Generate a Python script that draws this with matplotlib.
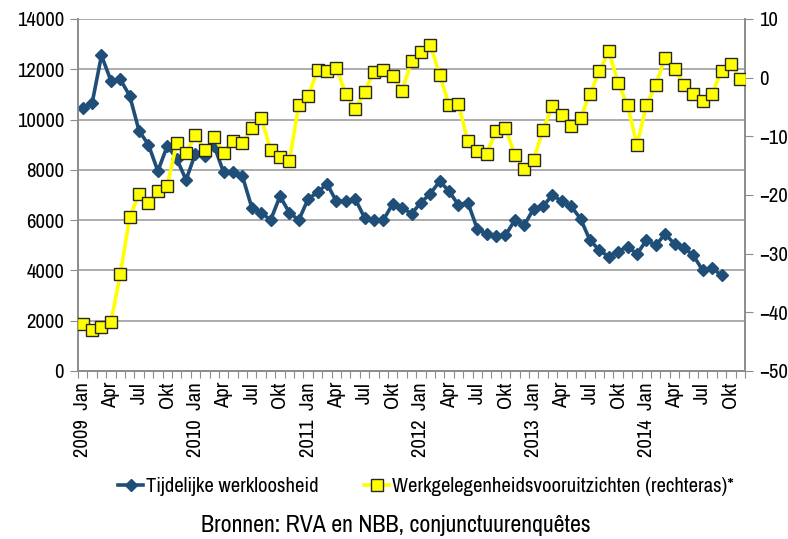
import matplotlib
matplotlib.use("Agg")
import matplotlib.pyplot as plt
import matplotlib.font_manager as fm
from matplotlib.lines import Line2D
import numpy as np

# prefer a narrow font (the reference uses an Arial Narrow look)
family = 'Liberation Sans'
for f in fm.fontManager.ttflist:
    n = f.name.lower()
    if ('narrow' in n or 'condensed' in n) and f.weight in (400, 'normal', 'regular') and f.style == 'normal':
        family = f.name
        break
plt.rcParams['font.family'] = [family, 'Liberation Sans', 'DejaVu Sans']

years = [2009, 2010, 2011, 2012, 2013, 2014]
month_names = ["Jan", "Apr", "Jul", "Okt"]

werkloosheid = [10450, 10650, 12550, 11550, 11600, 10950, 9550, 9000, 7950, 8950,
                8450, 7600, 8650, 8550, 8950, 7900, 7900, 7750, 6500, 6300,
                6000, 6950, 6300, 6000, 6850, 7100, 7450, 6750, 6750, 6850,
                6100, 6000, 6000, 6650, 6500, 6250, 6700, 7050, 7550, 7150,
                6600, 6700, 5650, 5450, 5350, 5400, 6000, 5800, 6450, 6550,
                7000, 6750, 6550, 6050, 5200, 4800, 4550, 4750, 4950, 4650,
                5200, 5000, 5450, 5050, 4900, 4600, 4000, 4100, 3800]

vooruitzichten = [-42.0, -43.0, -42.5, -41.7, -33.5, -23.8, -19.8, -21.4, -19.4, -18.4,
                  -11.2, -12.8, -9.8, -12.4, -10.1, -12.8, -10.85, -11.2, -8.5, -6.8,
                  -12.3, -13.5, -14.2, -4.7, -3.2, 1.3, 1.1, 1.7, -2.8, -5.4,
                  -2.4, 1.0, 1.3, 0.2, -2.2, 2.8, 4.4, 5.6, 0.5, -4.7,
                  -4.5, -10.85, -12.5, -13.0, -9.1, -8.5, -13.2, -15.5, -14.0, -8.9,
                  -4.8, -6.4, -8.2, -6.8, -2.8, 1.1, 4.5, -0.9, -4.7, -11.5,
                  -4.7, -1.2, 3.35, 1.4, -1.2, -2.8, -4.0, -2.8, 1.2, 2.4, -0.2]

legend_labels = ["Tijdelijke werkloosheid", "Werkgelegenheidsvooruitzichten (rechteras)*"]
source_text = "Bronnen: RVA en NBB, conjunctuurenquêtes"

n_months = len(vooruitzichten)
x_blue = np.arange(len(werkloosheid))
x_yel = np.arange(n_months)

W, H = 788, 539
fig = plt.figure(figsize=(W / 100, H / 100), dpi=100)


def width_at_10(s):
    t = fig.text(0, 0, s, fontsize=10)
    fig.canvas.draw()
    w = t.get_window_extent().width
    t.remove()
    return w


# font sizes chosen so texts are as wide as in the reference
FS = min(16.0, 10 * 343.0 / width_at_10(legend_labels[1]))
FS_SRC = min(18.0, 10 * 392.0 / width_at_10(source_text))

ax = fig.add_axes([78 / W, (H - 371) / H, 667 / W, 352 / H])

grid_c = '#A6A6A6'
spine_c = '#8C8C8C'
blue = '#1F4E79'

ax.set_xlim(-0.5, n_months - 0.5)
ax.set_ylim(0, 14000)
ax.set_yticks(np.arange(0, 14001, 2000))
ax.grid(axis='y', color=grid_c, linewidth=1.3)
ax.set_axisbelow(True)

ax.set_xticks(np.arange(-0.5, n_months, 1.0))
ax.set_xticklabels([])
ax.tick_params(axis='x', which='major', length=5, color=spine_c, direction='out')
lab_pos = []
lab_txt = []
for i in range(0, n_months, 3):
    m = month_names[(i % 12) // 3]
    if i % 12 == 0:
        lab_txt.append(f"{years[i // 12]}  {m}")
    else:
        lab_txt.append(m)
    lab_pos.append(i)
ax.set_xticks(lab_pos, minor=True)
ax.set_xticklabels(lab_txt, minor=True, rotation=90, fontsize=FS)
ax.tick_params(axis='x', which='minor', length=0, pad=8)

ax.tick_params(axis='y', length=6, color=spine_c, labelsize=FS, pad=4)
for s in ['left', 'bottom', 'right']:
    ax.spines[s].set_color(spine_c)
    ax.spines[s].set_linewidth(1.2)
ax.spines['top'].set_visible(False)

ax.plot(x_blue, werkloosheid, color=blue, linewidth=2.6, marker='D',
        markersize=6.5, markerfacecolor=blue, markeredgecolor=blue, zorder=3)

ax2 = ax.twinx()
ax2.set_ylim(-50, 10)
ax2.set_yticks(np.arange(-50, 11, 10))
ax2.tick_params(axis='y', length=6, color=spine_c, labelsize=FS, pad=4)
for s in ['left', 'bottom', 'right']:
    ax2.spines[s].set_color(spine_c)
    ax2.spines[s].set_linewidth(1.2)
ax2.spines['top'].set_visible(False)
ax2.plot(x_yel, vooruitzichten, color='#FFFF00', linewidth=2.6, marker='s',
         markersize=8, markerfacecolor='#FFFF00', markeredgecolor='#262626',
         markeredgewidth=1.0, zorder=4)

h1 = Line2D([], [], color=blue, linewidth=2.6, marker='D', markersize=6.5,
            markerfacecolor=blue, markeredgecolor=blue)
h2 = Line2D([], [], color='#FFFF00', linewidth=2.6, marker='s', markersize=8,
            markerfacecolor='#FFFF00', markeredgecolor='#262626', markeredgewidth=1.0)
fig.legend([h1, h2], legend_labels,
           loc='center', bbox_to_anchor=(426 / W, 1 - 487 / H), ncol=2, frameon=False,
           fontsize=FS, handlelength=1.2, handletextpad=0.15, columnspacing=2.2)

fig.text(396 / W, 1 - 525 / H, source_text,
         ha='center', va='center', fontsize=FS_SRC)

fig.savefig("out.png", dpi=100)
